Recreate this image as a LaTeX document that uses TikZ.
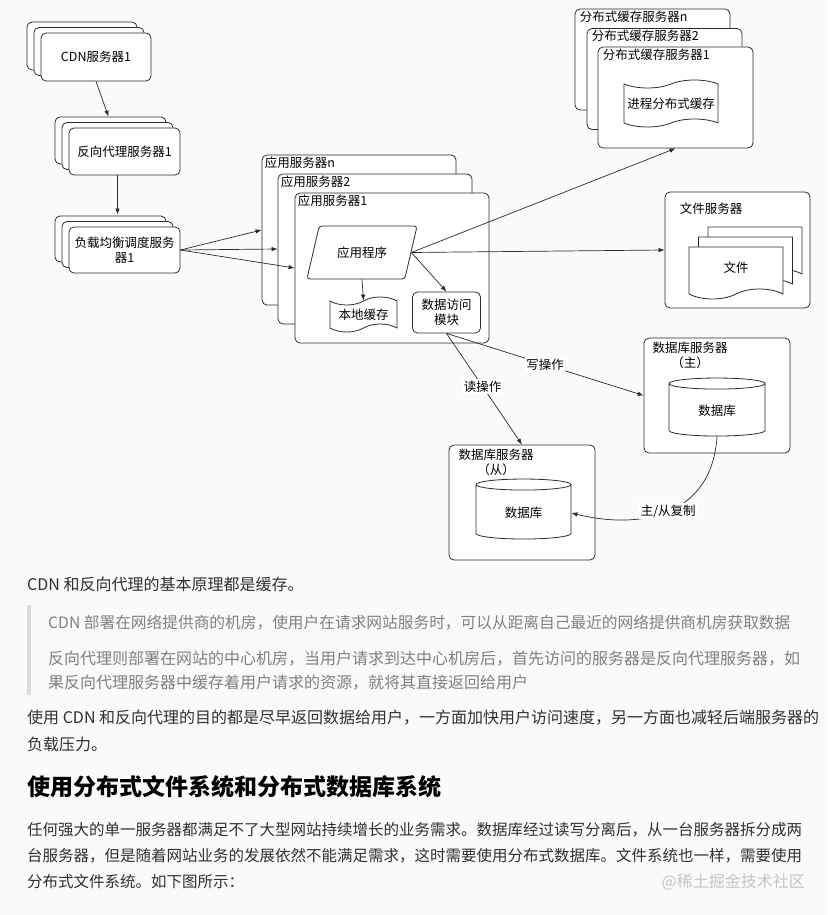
\documentclass[tikz,border=0pt]{standalone}
\usepackage{fontspec}
\setmainfont{Noto Sans CJK SC}
\usetikzlibrary{arrows.meta,positioning,calc,shapes.geometric,shapes.symbols,shadows}
\definecolor{ink}{HTML}{2B2B2B}
\definecolor{bodytext}{HTML}{303030}
\definecolor{quotetext}{HTML}{808080}
\definecolor{quotebar}{HTML}{DCDCDC}
\definecolor{pagebg}{HTML}{FAFAFA}
\definecolor{mark}{HTML}{C4C4C4}

\begin{document}
\begin{tikzpicture}[
  x=1pt, y=-1pt,
  font=\fontsize{12.5}{15}\selectfont,
  >={Latex[length=6pt,width=4.4pt]},
  srv/.style={draw=ink, line width=0.8pt, rounded corners=5pt, fill=white, inner sep=2pt, align=center},
  stack/.style={srv, double copy shadow={shadow xshift=-7pt, shadow yshift=5.5pt, draw=ink, line width=0.8pt, fill=white}},
  tag/.style={anchor=west, inner sep=0pt},
  db/.style={cylinder, shape border rotate=90, aspect=0.25, draw=ink, line width=0.8pt, fill=white},
  memo/.style={tape, draw=ink, line width=0.8pt, fill=white, tape bend height=8pt},
  doc/.style={tape, tape bend top=none, tape bend height=10pt, draw=ink, line width=0.8pt, fill=white,
    double copy shadow={shadow xshift=9.5pt, shadow yshift=10pt, draw=ink, line width=0.8pt, fill=white}},
  arr/.style={->, draw=ink, line width=0.7pt},
  lbl/.style={fill=white, inner sep=1.5pt},
  body/.style={anchor=west, inner sep=0pt, font=\fontsize{16}{20}\selectfont, text=bodytext},
  quote/.style={body, text=quotetext}
]
\useasboundingbox (0,0) rectangle (827,915);
\fill[pagebg] (0,0) rectangle (827,915);

% entry chain
\node[stack, minimum width=110pt, minimum height=48pt] (cdn) at (96,57) {CDN服务器1};
\node[stack, minimum width=111pt, minimum height=47pt] (proxy) at (124.5,151.5) {反向代理服务器1};
\node[stack, minimum width=111pt, minimum height=46pt] (lb) at (124.5,250) {负载均衡调度服务\\器1};

% application servers
\node[srv, minimum width=194pt, minimum height=150pt] (appn) at (359,230) {};
\node[tag] at ($(appn.north west)+(3,8)$) {应用服务器n};
\node[srv, minimum width=194pt, minimum height=150pt] (app2) at (375,249) {};
\node[tag] at ($(app2.north west)+(3,8)$) {应用服务器2};
\node[srv, minimum width=194pt, minimum height=150pt] (app1) at (392,268) {};
\node[tag] at ($(app1.north west)+(3,8)$) {应用服务器1};
\node[trapezium, trapezium left angle=66, trapezium right angle=114, trapezium stretches=true,
  minimum width=111pt, minimum height=53pt, draw=ink, line width=0.8pt, fill=white, rounded corners=3pt] (prog) at (362,252.5) {应用程序};
\node[memo, minimum width=67pt, minimum height=35pt] (local) at (363.5,314.5) {本地缓存};
\node[srv, minimum width=68pt, minimum height=41pt] (dao) at (446.5,312.5) {数据访问\\模块};

% distributed cache
\node[srv, minimum width=155pt, minimum height=101pt] (cachen) at (652.5,59.5) {};
\node[tag] at ($(cachen.north west)+(5,8)$) {分布式缓存服务器n};
\node[srv, minimum width=155pt, minimum height=101pt] (cache2) at (664.5,79) {};
\node[tag] at ($(cache2.north west)+(5,8)$) {分布式缓存服务器2};
\node[srv, minimum width=155pt, minimum height=101pt] (cache1) at (675.5,97.5) {};
\node[tag] at ($(cache1.north west)+(5,8)$) {分布式缓存服务器1};
\node[memo, minimum width=94pt, minimum height=47pt] (remote) at (671,103.5) {进程分布式缓存};

% file server
\node[srv, minimum width=145pt, minimum height=116pt] (files) at (737.5,250) {};
\node[tag] at ($(files.north west)+(15,17)$) {文件服务器};
\node[doc, minimum width=94pt, minimum height=52pt] (file) at (736,268) {文件};

% databases
\node[srv, minimum width=146pt, minimum height=115pt] (master) at (717,395.5) {};
\node[align=center, inner sep=0pt] at (690,355.5) {数据库服务器\\（主）};
\node[db, minimum width=96pt, minimum height=58pt] (mdb) at (717,411) {数据库};
\node[srv, minimum width=146pt, minimum height=115pt] (slave) at (522,502.5) {};
\node[align=center, inner sep=0pt] at (496,462.5) {数据库服务器\\（从）};
\node[db, minimum width=95pt, minimum height=60pt] (sdb) at (523.5,513) {数据库};

% connectors
\draw[arr] (cdn.south) -- ($(proxy.north)+(-16,-11)$);
\draw[arr] ($(proxy.south)+(-7,0)$) -- ($(lb.north)+(-7,-12)$);
\foreach \t in {appn,app2,app1} \draw[arr] (lb.east) -- (\t.west);
\draw[arr] (prog.east) -- (cache1.south);
\draw[arr] (prog.east) -- (files.west);
\draw[arr] (prog.east) -- (dao.north);
\draw[arr] (prog.south) -- (local.north);
\draw[arr] (dao.south) -- node[lbl] {写操作} (master.west);
\draw[arr] (dao.south) -- node[lbl, pos=0.48] {读操作} (slave.north);
\draw[arr] (mdb.south) .. controls +(-5,80) and +(69,17) .. node[lbl] {主/从复制} (sdb.east);

% article text
\node[body] (p1) at (27,584) {CDN 和反向代理的基本原理都是缓存。};
\fill[quotebar] (27,605) rectangle (31,695);
\node[quote, font=\fontsize{15.7}{20}\selectfont] (q1) at (48,623) {CDN 部署在网络提供商的机房，使用户在请求网站服务时，可以从距离自己最近的网络提供商机房获取数据};
\node[quote] (q2) at (48,659) {反向代理则部署在网站的中心机房，当用户请求到达中心机房后，首先访问的服务器是反向代理服务器，如};
\node[quote] (q3) at (48,683) {果反向代理服务器中缓存着用户请求的资源，就将其直接返回给用户};
\node[body] (p2) at (27,718) {使用 CDN 和反向代理的目的都是尽早返回数据给用户，一方面加快用户访问速度，另一方面也减轻后端服务器的};
\node[body] (p3) at (27,744) {负载压力。};
\node[body, font=\fontsize{23}{28}\selectfont\bfseries, text=black] (head) at (27,787) {使用分布式文件系统和分布式数据库系统};
\node[body, font=\fontsize{15.5}{20}\selectfont] (p4) at (27,830) {任何强大的单一服务器都满足不了大型网站持续增长的业务需求。数据库经过读写分离后，从一台服务器拆分成两};
\node[body, font=\fontsize{15.5}{20}\selectfont] (p5) at (27,856) {台服务器，但是随着网站业务的发展依然不能满足需求，这时需要使用分布式数据库。文件系统也一样，需要使用};
\node[body, font=\fontsize{15.5}{20}\selectfont] (p6) at (27,882) {分布式文件系统。如下图所示：};
\node[body, anchor=east, text=mark] (wm) at (805,882) {@稀土掘金技术社区};
\end{tikzpicture}
\end{document}
